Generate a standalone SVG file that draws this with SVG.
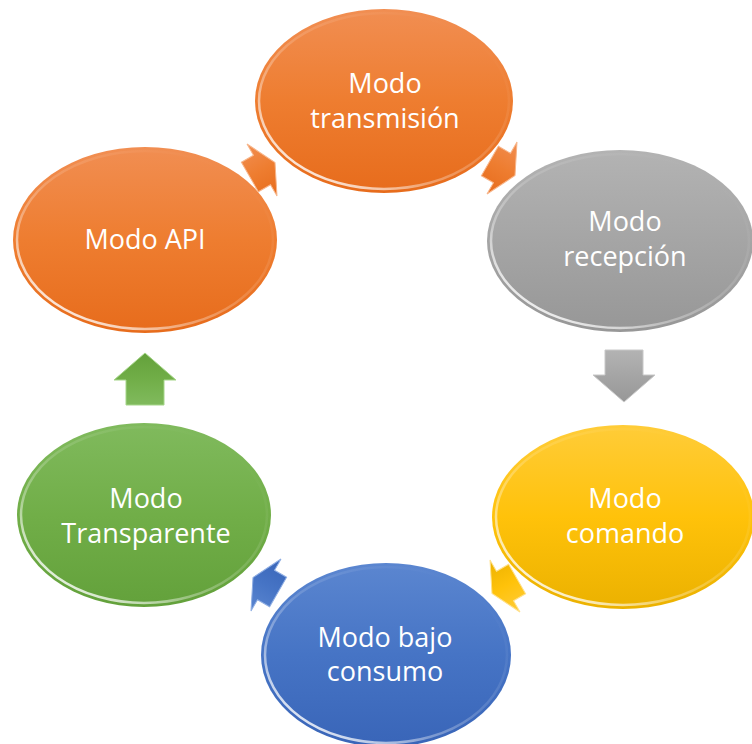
<svg xmlns="http://www.w3.org/2000/svg" width="752" height="744" viewBox="0 0 752 744">
<style>
.lbl{font-family:"Open Sans","Liberation Sans",sans-serif;font-size:27px;fill:#ffffff;text-anchor:middle}
.gloss{fill:none;stroke:url(#shine);stroke-width:2.5}
</style>
<defs>
<linearGradient id="gOrange" x1="0" y1="0" x2="0" y2="1"><stop offset="0" stop-color="#F18E52"/><stop offset="0.5" stop-color="#EE7D30"/><stop offset="1" stop-color="#E76C1C"/></linearGradient>
<linearGradient id="gGray" x1="0" y1="0" x2="0" y2="1"><stop offset="0" stop-color="#B3B3B3"/><stop offset="0.5" stop-color="#A5A5A5"/><stop offset="1" stop-color="#979797"/></linearGradient>
<linearGradient id="gYellow" x1="0" y1="0" x2="0" y2="1"><stop offset="0" stop-color="#FFCC38"/><stop offset="0.5" stop-color="#FFC20A"/><stop offset="1" stop-color="#EBB100"/></linearGradient>
<linearGradient id="gBlue" x1="0" y1="0" x2="0" y2="1"><stop offset="0" stop-color="#5B86D0"/><stop offset="0.5" stop-color="#4674C5"/><stop offset="1" stop-color="#3965B8"/></linearGradient>
<linearGradient id="gGreen" x1="0" y1="0" x2="0" y2="1"><stop offset="0" stop-color="#80BA5D"/><stop offset="0.5" stop-color="#71AE48"/><stop offset="1" stop-color="#63A13B"/></linearGradient>
<linearGradient id="shine" x1="0" y1="0.8" x2="0.7" y2="0"><stop offset="0" stop-color="#ffffff" stop-opacity="0.9"/><stop offset="0.3" stop-color="#ffffff" stop-opacity="0.35"/><stop offset="0.55" stop-color="#ffffff" stop-opacity="0.15"/><stop offset="1" stop-color="#ffffff" stop-opacity="0"/></linearGradient>
<path id="diag" d="M-14,-17 L0,-17 L0,-30 L15,0 L0,30 L0,17 L-14,17 Z"/>
<path id="straight" d="M-19,-26 L19,-26 L19,-1 L31,-1 L0,26 L-31,-1 L-19,-1 Z"/>
</defs>

<g id="connectors">
<use href="#diag" fill="url(#gOrange)" stroke="#F7B58A" stroke-width="1" transform="translate(262,170) rotate(-30)"/>
<use href="#diag" fill="url(#gOrange)" stroke="#F7B58A" stroke-width="1" transform="translate(502,168) rotate(30)"/>
<use href="#straight" fill="url(#gGray)" stroke="#C8C8C8" stroke-width="1" transform="translate(624,376)"/>
<use href="#diag" fill="url(#gYellow)" stroke="#FFE08A" stroke-width="1" transform="translate(505,586) rotate(150)"/>
<use href="#diag" fill="url(#gBlue)" stroke="#8FAEE3" stroke-width="1" transform="translate(266,585) rotate(210)"/>
<use href="#straight" fill="url(#gGreen)" stroke="#A6D68A" stroke-width="1" transform="translate(145,379) rotate(180)"/>
</g>

<g id="node-transmision">
<ellipse cx="384" cy="101" rx="129" ry="92" fill="url(#gOrange)"/>
<ellipse class="gloss" cx="384" cy="101" rx="125" ry="88"/>
<text class="lbl" x="385" y="93">Modo</text>
<text class="lbl" x="385" y="128">transmisión</text>
</g>

<g id="node-recepcion">
<ellipse cx="620" cy="241" rx="133" ry="91" fill="url(#gGray)"/>
<ellipse class="gloss" cx="620" cy="241" rx="129" ry="87"/>
<text class="lbl" x="625" y="231">Modo</text>
<text class="lbl" x="625" y="266">recepción</text>
</g>

<g id="node-comando">
<ellipse cx="623" cy="517" rx="131" ry="92" fill="url(#gYellow)"/>
<ellipse class="gloss" cx="623" cy="517" rx="127" ry="88"/>
<text class="lbl" x="625" y="508">Modo</text>
<text class="lbl" x="625" y="543">comando</text>
</g>

<g id="node-bajo-consumo">
<ellipse cx="386" cy="655" rx="125" ry="92" fill="url(#gBlue)"/>
<ellipse class="gloss" cx="386" cy="655" rx="121" ry="88"/>
<text class="lbl" x="385" y="647">Modo bajo</text>
<text class="lbl" x="385" y="681">consumo</text>
</g>

<g id="node-transparente">
<ellipse cx="144" cy="515" rx="127" ry="92" fill="url(#gGreen)"/>
<ellipse class="gloss" cx="144" cy="515" rx="123" ry="88"/>
<text class="lbl" x="146" y="508">Modo</text>
<text class="lbl" x="146" y="543">Transparente</text>
</g>

<g id="node-api">
<ellipse cx="145" cy="240" rx="132" ry="93" fill="url(#gOrange)"/>
<ellipse class="gloss" cx="145" cy="240" rx="128" ry="89"/>
<text class="lbl" x="145" y="249">Modo API</text>
</g>
</svg>
